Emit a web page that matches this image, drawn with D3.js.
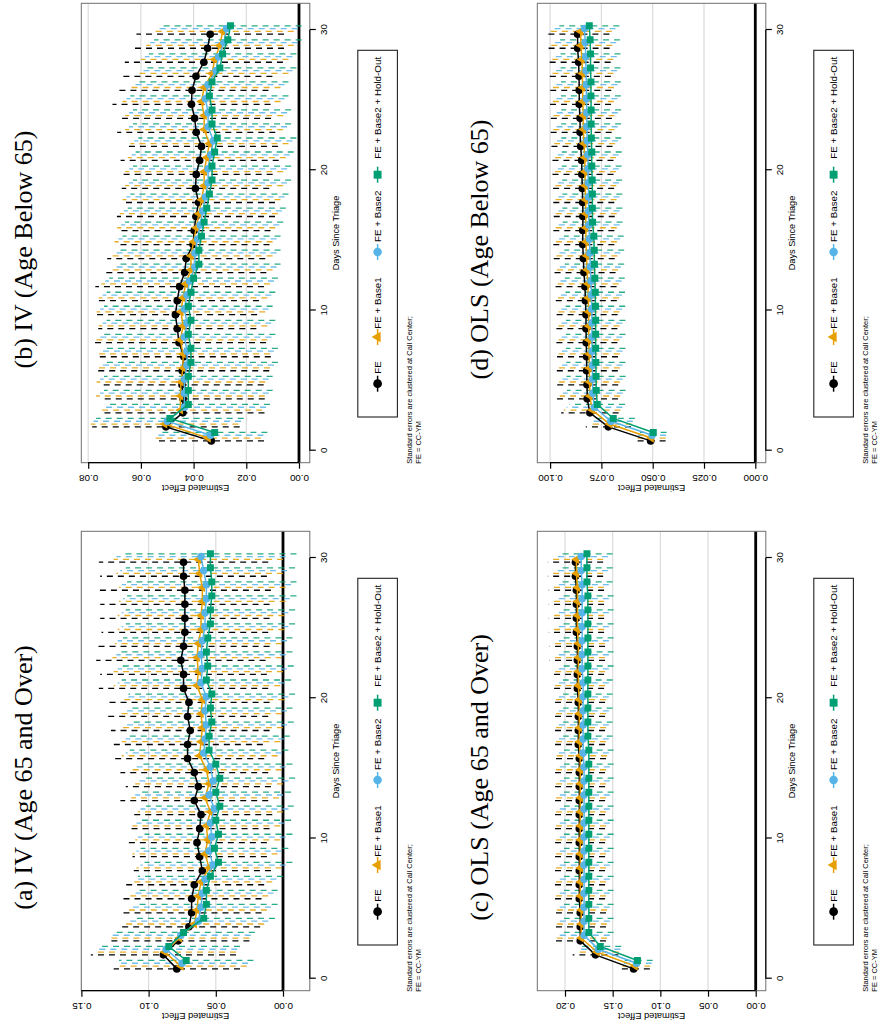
<!DOCTYPE html>
<html>
<head>
<meta charset="utf-8">
<script src="https://cdn.jsdelivr.net/npm/d3@7"></script>
<style>
  html, body { margin: 0; padding: 0; background: #fff; }
  svg { display: block; }
</style>
</head>
<body>
<svg id="chart" width="878" height="1027"></svg>
<script>
// ---- data -------------------------------------------------------------
const days = [1,2,3,4,5,6,7,8,9,10,11,12,13,14,15,16,17,18,19,20,21,22,23,24,25,26,27,28,29,30];
const seriesNames = ["FE", "FE + Base1", "FE + Base2", "FE + Base2 + Hold-Out"];
const dayTicks = [0, 10, 20, 30];
const noteLines = ["Standard errors are clustered at Call Center;", "FE = CC-YM"];

// (a) IV, age 65 and over: estimates and 95% CI half-widths
const ivOld_FE    = [0.079,0.089,0.078,0.070,0.068,0.068,0.066,0.060,0.062,0.064,0.062,0.061,0.066,0.063,0.066,0.071,0.071,0.069,0.071,0.070,0.074,0.074,0.076,0.074,0.073,0.073,0.073,0.073,0.074,0.074];
const ivOld_FE_ci = [0.047,0.054,0.053,0.053,0.052,0.052,0.052,0.051,0.050,0.052,0.052,0.053,0.055,0.054,0.055,0.057,0.056,0.059,0.060,0.060,0.063,0.062,0.063,0.064,0.062,0.063,0.063,0.064,0.062,0.063];
const ivOld_B1    = [0.076,0.088,0.077,0.066,0.064,0.063,0.061,0.055,0.058,0.056,0.057,0.054,0.058,0.055,0.057,0.062,0.061,0.060,0.061,0.060,0.064,0.063,0.064,0.063,0.061,0.061,0.060,0.060,0.062,0.063];
const ivOld_B1_ci = [0.049,0.053,0.052,0.052,0.052,0.052,0.053,0.054,0.054,0.054,0.055,0.054,0.055,0.055,0.056,0.058,0.059,0.060,0.060,0.061,0.062,0.063,0.063,0.062,0.062,0.062,0.062,0.062,0.062,0.063];
const ivOld_B2    = [0.075,0.087,0.076,0.063,0.061,0.060,0.058,0.052,0.055,0.053,0.054,0.051,0.055,0.052,0.054,0.059,0.058,0.057,0.058,0.057,0.061,0.060,0.061,0.060,0.058,0.058,0.057,0.057,0.059,0.061];
const ivOld_B2_ci = [0.049,0.053,0.052,0.052,0.052,0.053,0.053,0.054,0.054,0.055,0.055,0.055,0.055,0.056,0.056,0.058,0.059,0.060,0.061,0.061,0.062,0.063,0.063,0.063,0.062,0.062,0.062,0.063,0.062,0.063];
const ivOld_HO    = [0.072,0.085,0.074,0.059,0.057,0.057,0.054,0.048,0.051,0.048,0.050,0.047,0.050,0.047,0.050,0.055,0.055,0.053,0.054,0.053,0.057,0.056,0.057,0.056,0.054,0.054,0.053,0.053,0.054,0.054];
const ivOld_HO_ci = [0.050,0.053,0.053,0.053,0.053,0.053,0.054,0.055,0.055,0.055,0.056,0.055,0.056,0.056,0.057,0.059,0.060,0.061,0.061,0.062,0.063,0.064,0.064,0.063,0.063,0.063,0.063,0.063,0.063,0.064];
const ivOld_ticks = [0, 0.05, 0.10, 0.15];

// (b) IV, age below 65
const ivYoung_FE    = [0.0333,0.0505,0.0441,0.0440,0.0444,0.0443,0.0437,0.0455,0.0462,0.0469,0.0462,0.0453,0.0434,0.0428,0.0402,0.0398,0.0391,0.0381,0.0393,0.0390,0.0377,0.0370,0.0390,0.0396,0.0408,0.0406,0.0391,0.0361,0.0347,0.0337];
const ivYoung_FE_ci = [0.020,0.028,0.031,0.031,0.031,0.033,0.033,0.033,0.030,0.031,0.031,0.032,0.031,0.030,0.029,0.029,0.030,0.029,0.028,0.029,0.030,0.029,0.030,0.029,0.030,0.029,0.029,0.030,0.029,0.028];
const ivYoung_B1    = [0.0345,0.0510,0.0450,0.0450,0.0448,0.0440,0.0440,0.0450,0.0440,0.0448,0.0440,0.0430,0.0410,0.0410,0.0400,0.0390,0.0380,0.0370,0.0360,0.0360,0.0350,0.0340,0.0360,0.0360,0.0370,0.0360,0.0330,0.0320,0.0300,0.0290];
const ivYoung_B1_ci = [0.020,0.028,0.031,0.032,0.032,0.033,0.033,0.033,0.032,0.032,0.032,0.032,0.031,0.031,0.030,0.030,0.030,0.030,0.030,0.030,0.030,0.030,0.030,0.030,0.030,0.029,0.029,0.028,0.028,0.027];
const ivYoung_B2    = [0.0335,0.0500,0.0435,0.0435,0.0435,0.0425,0.0425,0.0435,0.0425,0.0435,0.0425,0.0415,0.0395,0.0395,0.0385,0.0375,0.0365,0.0355,0.0345,0.0345,0.0335,0.0325,0.0345,0.0345,0.0355,0.0345,0.0315,0.0305,0.0285,0.0275];
const ivYoung_B2_ci = [0.020,0.028,0.031,0.032,0.032,0.033,0.033,0.033,0.032,0.032,0.032,0.032,0.031,0.031,0.030,0.030,0.030,0.030,0.030,0.030,0.030,0.030,0.030,0.030,0.030,0.029,0.029,0.028,0.028,0.027];
const ivYoung_HO    = [0.0320,0.0490,0.0420,0.0420,0.0420,0.0410,0.0410,0.0420,0.0410,0.0420,0.0410,0.0400,0.0380,0.0380,0.0370,0.0360,0.0350,0.0340,0.0330,0.0330,0.0320,0.0310,0.0330,0.0330,0.0340,0.0330,0.0300,0.0290,0.0270,0.0260];
const ivYoung_HO_ci = [0.020,0.028,0.031,0.032,0.032,0.033,0.033,0.033,0.032,0.032,0.032,0.032,0.031,0.031,0.030,0.030,0.030,0.030,0.030,0.030,0.030,0.030,0.030,0.030,0.030,0.029,0.029,0.028,0.028,0.027];
const ivYoung_ticks = [0, 0.02, 0.04, 0.06, 0.08];

// (c) OLS, age 65 and over
const olsOld_FE    = [0.128,0.168,0.184,0.184,0.184,0.185,0.185,0.185,0.185,0.185,0.185,0.185,0.185,0.185,0.185,0.185,0.186,0.186,0.186,0.186,0.187,0.187,0.187,0.187,0.188,0.188,0.188,0.188,0.189,0.189];
const olsOld_FE_ci = [0.017,0.024,0.027,0.027,0.027,0.027,0.027,0.027,0.027,0.027,0.027,0.027,0.027,0.027,0.027,0.028,0.028,0.028,0.028,0.028,0.028,0.028,0.029,0.029,0.029,0.029,0.029,0.029,0.029,0.029];
const olsOld_B1    = [0.1265,0.1665,0.183,0.183,0.183,0.184,0.184,0.184,0.184,0.184,0.184,0.184,0.184,0.184,0.184,0.184,0.185,0.185,0.185,0.185,0.186,0.186,0.186,0.186,0.187,0.187,0.187,0.187,0.188,0.188];
const olsOld_B1_ci = [0.016,0.023,0.027,0.027,0.027,0.027,0.027,0.027,0.027,0.027,0.027,0.027,0.027,0.027,0.027,0.028,0.028,0.028,0.028,0.028,0.028,0.028,0.028,0.028,0.028,0.028,0.028,0.028,0.028,0.028];
const olsOld_B2    = [0.125,0.165,0.180,0.180,0.180,0.180,0.180,0.180,0.180,0.180,0.180,0.180,0.180,0.180,0.180,0.181,0.181,0.181,0.181,0.181,0.181,0.182,0.182,0.182,0.182,0.182,0.182,0.182,0.183,0.183];
const olsOld_B2_ci = [0.016,0.023,0.027,0.027,0.027,0.027,0.027,0.027,0.027,0.027,0.027,0.027,0.027,0.027,0.027,0.027,0.027,0.027,0.027,0.027,0.027,0.028,0.028,0.028,0.028,0.028,0.028,0.028,0.028,0.028];
const olsOld_HO    = [0.124,0.163,0.175,0.175,0.175,0.175,0.175,0.175,0.175,0.175,0.175,0.175,0.175,0.175,0.175,0.175,0.176,0.176,0.176,0.176,0.176,0.176,0.176,0.176,0.176,0.176,0.176,0.177,0.177,0.177];
const olsOld_HO_ci = [0.016,0.022,0.026,0.026,0.026,0.026,0.026,0.026,0.026,0.026,0.026,0.026,0.026,0.026,0.026,0.026,0.026,0.026,0.026,0.026,0.026,0.027,0.027,0.027,0.027,0.027,0.027,0.027,0.027,0.027];
const olsOld_ticks = [0, 0.05, 0.10, 0.15, 0.20];

// (d) OLS, age below 65
const olsYoung_FE    = [0.0510,0.0716,0.0806,0.0819,0.0820,0.0822,0.0822,0.0824,0.0825,0.0825,0.0828,0.0830,0.0835,0.0838,0.0841,0.0841,0.0840,0.0841,0.0843,0.0845,0.0846,0.0851,0.0854,0.0854,0.0858,0.0858,0.0859,0.0861,0.0866,0.0866];
const olsYoung_FE_ci = [0.0073,0.0110,0.0140,0.0150,0.0152,0.0152,0.0153,0.0152,0.0153,0.0154,0.0153,0.0154,0.0154,0.0153,0.0154,0.0154,0.0155,0.0154,0.0155,0.0154,0.0155,0.0155,0.0154,0.0155,0.0155,0.0156,0.0155,0.0156,0.0156,0.0155];
const olsYoung_B1    = [0.0507,0.0710,0.0795,0.0806,0.0808,0.0809,0.0810,0.0811,0.0812,0.0812,0.0814,0.0816,0.0820,0.0822,0.0825,0.0826,0.0826,0.0827,0.0829,0.0830,0.0831,0.0835,0.0838,0.0838,0.0841,0.0841,0.0843,0.0845,0.0850,0.0851];
const olsYoung_B1_ci = [0.0070,0.0108,0.0138,0.0147,0.0148,0.0149,0.0149,0.0149,0.0150,0.0150,0.0150,0.0150,0.0151,0.0150,0.0151,0.0151,0.0151,0.0151,0.0152,0.0151,0.0152,0.0152,0.0151,0.0152,0.0152,0.0152,0.0152,0.0153,0.0153,0.0152];
const olsYoung_B2    = [0.0503,0.0703,0.0784,0.0792,0.0793,0.0794,0.0795,0.0796,0.0796,0.0797,0.0799,0.0801,0.0804,0.0806,0.0808,0.0811,0.0812,0.0812,0.0814,0.0815,0.0816,0.0819,0.0821,0.0821,0.0823,0.0823,0.0825,0.0826,0.0829,0.0832];
const olsYoung_B2_ci = [0.0068,0.0106,0.0136,0.0146,0.0147,0.0147,0.0148,0.0148,0.0148,0.0148,0.0149,0.0149,0.0149,0.0149,0.0149,0.0150,0.0150,0.0150,0.0150,0.0150,0.0150,0.0150,0.0150,0.0151,0.0151,0.0151,0.0151,0.0151,0.0151,0.0151];
const olsYoung_HO    = [0.0497,0.0692,0.0770,0.0775,0.0776,0.0777,0.0778,0.0778,0.0778,0.0779,0.0780,0.0782,0.0784,0.0785,0.0787,0.0793,0.0794,0.0794,0.0795,0.0797,0.0797,0.0799,0.0800,0.0800,0.0801,0.0801,0.0803,0.0803,0.0805,0.0809];
const olsYoung_HO_ci = [0.0065,0.0105,0.0135,0.0143,0.0144,0.0144,0.0145,0.0145,0.0145,0.0145,0.0145,0.0146,0.0145,0.0146,0.0146,0.0146,0.0146,0.0146,0.0146,0.0146,0.0146,0.0146,0.0146,0.0146,0.0146,0.0146,0.0146,0.0146,0.0146,0.0146];
const olsYoung_ticks = [0, 0.025, 0.050, 0.075, 0.100];

// ---- styling ----------------------------------------------------------
const seriesColors = ["#000000", "#E69F00", "#56B4E9", "#009E73"];
const seriesShapes = [d3.symbolCircle, d3.symbolTriangle, d3.symbolCircle, d3.symbolSquare];
const shapeSizes   = [46, 36, 44, 48];
const dodge        = [-0.3, -0.1, 0.1, 0.3];
const SANS  = "'Liberation Sans', Arial, Helvetica, sans-serif";
const SERIF = "'Liberation Serif', 'Times New Roman', serif";

const panels = [
  { title: "(a) IV (Age 65 and Over)", col: 0, row: 0, ticks: ivOld_ticks, fmt: ".2f",
    zeroOff: 201.7, topOff: 0.1,
    est: [ivOld_FE, ivOld_B1, ivOld_B2, ivOld_HO], ci: [ivOld_FE_ci, ivOld_B1_ci, ivOld_B2_ci, ivOld_HO_ci] },
  { title: "(b) IV (Age Below 65)", col: 1, row: 0, ticks: ivYoung_ticks, fmt: ".2f",
    zeroOff: 217.7, topOff: 6.9,
    est: [ivYoung_FE, ivYoung_B1, ivYoung_B2, ivYoung_HO], ci: [ivYoung_FE_ci, ivYoung_B1_ci, ivYoung_B2_ci, ivYoung_HO_ci] },
  { title: "(c) OLS (Age 65 and Over)", col: 0, row: 1, ticks: olsOld_ticks, fmt: ".2f",
    zeroOff: 218.4, topOff: 27.7,
    est: [olsOld_FE, olsOld_B1, olsOld_B2, olsOld_HO], ci: [olsOld_FE_ci, olsOld_B1_ci, olsOld_B2_ci, olsOld_HO_ci] },
  { title: "(d) OLS (Age Below 65)", col: 1, row: 1, ticks: olsYoung_ticks, fmt: ".3f",
    zeroOff: 218.0, topOff: 12.8,
    est: [olsYoung_FE, olsYoung_B1, olsYoung_B2, olsYoung_HO], ci: [olsYoung_FE_ci, olsYoung_B1_ci, olsYoung_B2_ci, olsYoung_HO_ci] }
];

// ---- layout (landscape page, turned a quarter turn on screen) ----------
const layout = { colX: [36.3, 564.3], rowY: [81.3, 537.3], w: 459.4, h: 228.5,
                 day0: 12.0, day30: 432.7 };
const legendSymX = [79, 125.7, 210.7, 288];
const legendTxtX = [89, 134, 220.7, 304];

const svg = d3.select("#chart");
const defs = svg.append("defs");
const root = svg.append("g").attr("transform", "translate(0,1027) rotate(-90)");

panels.forEach((p, k) => {
  const x0 = layout.colX[p.col], y0 = layout.rowY[p.row];
  const x1 = x0 + layout.w, y1 = y0 + layout.h;
  const x = d3.scaleLinear().domain([0, 30]).range([x0 + layout.day0, x0 + layout.day30]);
  const y = d3.scaleLinear().domain([0, p.ticks[p.ticks.length - 1]])
              .range([y0 + p.zeroOff, y0 + p.topOff]);
  const g = root.append("g");

  // title
  g.append("text").attr("x", x0 + 213.2).attr("y", y0 - 49.8)
    .attr("text-anchor", "middle").attr("font-family", SERIF).attr("font-size", 26)
    .text(p.title);

  // grid lines at effect ticks
  g.append("g").selectAll("line").data(p.ticks).join("line")
    .attr("x1", x0).attr("x2", x1).attr("y1", d => y(d)).attr("y2", d => y(d))
    .attr("stroke", "#dcdcdc").attr("stroke-width", 1.2);

  // reference line at zero
  g.append("line").attr("x1", x0).attr("x2", x1).attr("y1", y(0)).attr("y2", y(0))
    .attr("stroke", "#000").attr("stroke-width", 2.8);

  // clipped data layer
  const cid = "plotclip" + k;
  defs.append("clipPath").attr("id", cid).append("rect")
    .attr("x", x0).attr("y", y0).attr("width", layout.w).attr("height", layout.h);
  const dg = g.append("g").attr("clip-path", `url(#${cid})`);

  // confidence intervals (dashed)
  p.est.forEach((vals, s) => {
    dg.append("g").selectAll("line").data(days).join("line")
      .attr("x1", (d, i) => x(d + dodge[s])).attr("x2", (d, i) => x(d + dodge[s]))
      .attr("y1", (d, i) => y(vals[i] - p.ci[s][i]))
      .attr("y2", (d, i) => y(vals[i] + p.ci[s][i]))
      .attr("stroke", seriesColors[s]).attr("stroke-width", 1.3)
      .attr("stroke-opacity", s === 0 ? 1 : 0.85)
      .attr("stroke-dasharray", "6,5");
  });

  // connecting lines and markers
  p.est.forEach((vals, s) => {
    const line = d3.line().x((d, i) => x(d + dodge[s])).y((d, i) => y(vals[i]));
    dg.append("path").datum(days).attr("d", line)
      .attr("fill", "none").attr("stroke", seriesColors[s]).attr("stroke-width", 1.5);
    const sym = d3.symbol().type(seriesShapes[s]).size(shapeSizes[s]);
    dg.append("g").selectAll("path").data(days).join("path")
      .attr("transform", (d, i) => `translate(${x(d + dodge[s])},${y(vals[i])})`)
      .attr("d", sym).attr("fill", seriesColors[s]);
  });

  // plot box
  g.append("rect").attr("x", x0).attr("y", y0).attr("width", layout.w).attr("height", layout.h)
    .attr("fill", "none").attr("stroke", "#707070").attr("stroke-width", 1);

  // effect axis (left in page frame)
  const ya = g.append("g").attr("transform", `translate(${x0},0)`)
    .call(d3.axisLeft(y).tickValues(p.ticks).tickSize(6).tickSizeOuter(0).tickFormat(d3.format(p.fmt)));
  ya.select(".domain").remove();
  ya.append("line").attr("x1", 0).attr("x2", 0)
    .attr("y1", y(p.ticks[0])).attr("y2", y(p.ticks[p.ticks.length - 1]))
    .attr("stroke", "#000").attr("stroke-width", 1.2);
  ya.selectAll(".tick line").attr("stroke", "#000").attr("stroke-width", 1.2);
  ya.selectAll(".tick text").attr("transform", "rotate(-90)")
    .attr("x", 0).attr("y", -12).attr("dy", 0).attr("text-anchor", "middle")
    .attr("font-family", SANS).attr("font-size", 9.8).attr("fill", "#000");

  g.append("text").attr("transform", `translate(${x0 - 22.6},${(y0 + y1) / 2}) rotate(-90)`)
    .attr("text-anchor", "middle").attr("font-family", SANS).attr("font-size", 9.3)
    .text("Estimated Effect");

  // days axis (bottom in page frame)
  const xa = g.append("g").attr("transform", `translate(0,${y1})`)
    .call(d3.axisBottom(x).tickValues(dayTicks).tickSize(6).tickSizeOuter(0));
  xa.select(".domain").remove();
  xa.append("line").attr("x1", x(dayTicks[0])).attr("x2", x(dayTicks[dayTicks.length - 1]))
    .attr("y1", 0).attr("y2", 0).attr("stroke", "#000").attr("stroke-width", 1.2);
  xa.selectAll(".tick line").attr("stroke", "#000").attr("stroke-width", 1.2);
  xa.selectAll(".tick text").attr("y", 10.5).attr("font-family", SANS)
    .attr("font-size", 9.8).attr("fill", "#000");

  g.append("text").attr("x", (x0 + x1) / 2).attr("y", y1 + 29)
    .attr("text-anchor", "middle").attr("font-family", SANS).attr("font-size", 9.2)
    .text("Days Since Triage");

  // legend
  const lg = g.append("g");
  lg.append("rect").attr("x", x0 + 45.7).attr("y", y1 + 48).attr("width", 366.7).attr("height", 39.6)
    .attr("fill", "none").attr("stroke", "#222").attr("stroke-width", 1.1);
  const cy = y1 + 67.8;
  seriesNames.forEach((name, s) => {
    const sx = x0 + legendSymX[s];
    lg.append("line").attr("x1", sx - 8).attr("x2", sx + 8).attr("y1", cy).attr("y2", cy)
      .attr("stroke", seriesColors[s]).attr("stroke-width", 1.5);
    lg.append("path").attr("transform", `translate(${sx},${cy})`)
      .attr("d", d3.symbol().type(seriesShapes[s]).size(shapeSizes[s] * 1.3)())
      .attr("fill", seriesColors[s]);
    lg.append("text").attr("x", x0 + legendTxtX[s]).attr("y", cy + 3.5)
      .attr("font-family", SANS).attr("font-size", 9.8).text(name);
  });

  // note below the legend
  noteLines.forEach((t, i) => {
    g.append("text").attr("x", x0 - 1).attr("y", y1 + 102.6 + i * 8.6)
      .attr("font-family", SANS).attr("font-size", 7.5).text(t);
  });
});
</script>
</body>
</html>
